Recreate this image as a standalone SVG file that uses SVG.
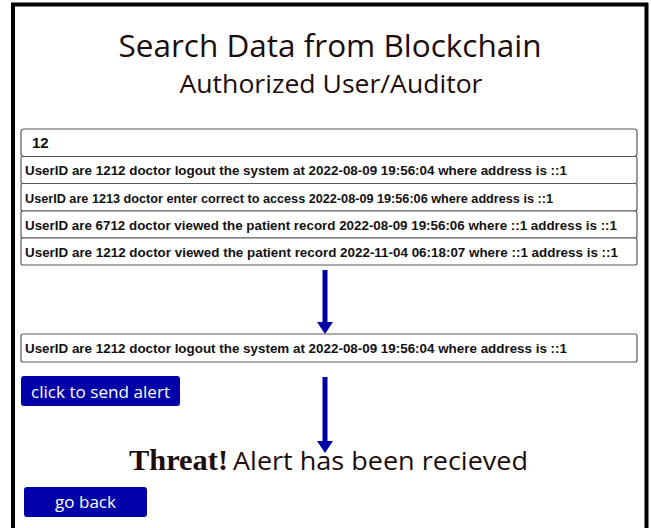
<svg xmlns="http://www.w3.org/2000/svg" width="651" height="528" viewBox="0 0 651 528">
  <style>
    .heading { font-family: "Open Sans", "Liberation Sans", Arial, sans-serif; fill: #1c0c0c; text-anchor: middle; }
    .row { fill: #ffffff; stroke: #5a5a5a; stroke-width: 1.2; }
    .rowtext { font-family: "Liberation Sans", Arial, sans-serif; font-weight: bold; font-size: 13px; fill: #111111; }
    .btn { fill: #0000a8; }
    .btntext { font-family: "Open Sans", "Liberation Sans", Arial, sans-serif; font-size: 17px; fill: #ffffff; }
    .flow { stroke: #0000a8; stroke-width: 5; fill: none; }
    .head { fill: #0000a8; }
  </style>

  <rect width="651" height="528" fill="#ffffff"/>
  <!-- outer frame, open at the bottom -->
  <path d="M13 530 V4.5 H646.5 V530" fill="none" stroke="#000000" stroke-width="4"/>

  <g id="title">
    <text class="heading" x="330" y="57" font-size="31" textLength="423" lengthAdjust="spacingAndGlyphs">Search Data from Blockchain</text>
    <text class="heading" x="331" y="93" font-size="25" textLength="303" lengthAdjust="spacingAndGlyphs">Authorized User/Auditor</text>
  </g>

  <g id="search-input">
    <rect class="row" x="21" y="129" width="616" height="27.5" rx="3"/>
    <text x="32" y="148" font-family="Liberation Sans, Arial, sans-serif" font-weight="bold" font-size="15" fill="#111111">12</text>
  </g>

  <g id="record-1">
    <rect class="row" x="21" y="156.5" width="616" height="27" rx="2"/>
    <text class="rowtext" x="25" y="175" textLength="542" lengthAdjust="spacingAndGlyphs">UserID are 1212 doctor logout the system at 2022-08-09 19:56:04 where address is ::1</text>
  </g>
  <g id="record-2">
    <rect class="row" x="21" y="183.5" width="616" height="27.5" rx="2"/>
    <text class="rowtext" x="25" y="202.5" textLength="528" lengthAdjust="spacingAndGlyphs">UserID are 1213 doctor enter correct to access 2022-08-09 19:56:06 where address is ::1</text>
  </g>
  <g id="record-3">
    <rect class="row" x="21" y="211" width="616" height="27" rx="2"/>
    <text class="rowtext" x="25" y="229.5" textLength="592" lengthAdjust="spacingAndGlyphs">UserID are 6712 doctor viewed the patient record 2022-08-09 19:56:06 where ::1 address is ::1</text>
  </g>
  <g id="record-4">
    <rect class="row" x="21" y="238" width="616" height="27" rx="2"/>
    <text class="rowtext" x="25" y="257" textLength="593" lengthAdjust="spacingAndGlyphs">UserID are 1212 doctor viewed the patient record 2022-11-04 06:18:07 where ::1 address is ::1</text>
  </g>

  <g id="result">
    <rect class="row" x="21" y="334" width="616" height="28" rx="2"/>
    <text class="rowtext" x="25" y="353" textLength="542" lengthAdjust="spacingAndGlyphs">UserID are 1212 doctor logout the system at 2022-08-09 19:56:04 where address is ::1</text>
  </g>

  <g id="send-alert">
    <rect class="btn" x="21" y="376" width="159" height="30" rx="3"/>
    <text class="btntext" x="31" y="398" textLength="139" lengthAdjust="spacingAndGlyphs">click to send alert</text>
  </g>

  <g id="alert-message">
    <text x="129" y="470" font-family="Liberation Serif, Times New Roman, serif" font-weight="bold" font-size="30" fill="#1c0c0c" textLength="99" lengthAdjust="spacingAndGlyphs">Threat!</text>
    <text x="233" y="470" font-family="Open Sans, Liberation Sans, Arial, sans-serif" font-size="26" fill="#1c0c0c" textLength="295" lengthAdjust="spacingAndGlyphs">Alert has been recieved</text>
  </g>

  <g id="go-back">
    <rect class="btn" x="24" y="487" width="123" height="30" rx="3"/>
    <text class="btntext" x="85.5" y="508" text-anchor="middle" textLength="61" lengthAdjust="spacingAndGlyphs">go back</text>
  </g>

  <g id="connectors">
    <line class="flow" x1="325" y1="270" x2="325" y2="323"/>
    <polygon class="head" points="317,322 333,322 325,334"/>
    <line class="flow" x1="325" y1="377" x2="325" y2="442"/>
    <polygon class="head" points="317,441 333,441 325,453"/>
  </g>
</svg>
